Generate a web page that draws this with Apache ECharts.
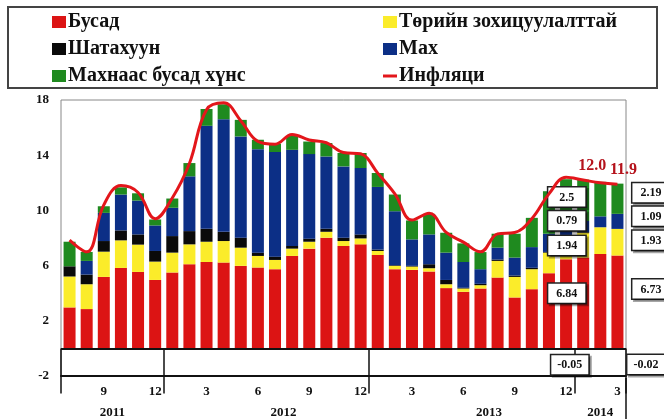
<!DOCTYPE html>
<html>
<head>
<meta charset="utf-8">
<script src="https://cdn.jsdelivr.net/npm/echarts@6/dist/echarts.min.js"></script>
<style>
html,body{margin:0;padding:0;background:#fff;}
#chart-panel{width:664px;height:419px;}
</style>
</head>
<body>
<div id="chart-panel"></div>
<script>
// 2011.7 - 2014.3, monthly
var periods = [
	'2011.7','2011.8','2011.9','2011.10','2011.11','2011.12',
	'2012.1','2012.2','2012.3','2012.4','2012.5','2012.6','2012.7','2012.8','2012.9','2012.10','2012.11','2012.12',
	'2013.1','2013.2','2013.3','2013.4','2013.5','2013.6','2013.7','2013.8','2013.9','2013.10','2013.11','2013.12',
	'2014.1','2014.2','2014.3'
];
var yearLabels = ['2011', '2012', '2013', '2014'];
var yTicks = [-2, 2, 6, 10, 14, 18];

var busad = [2.97, 2.85, 5.18, 5.83, 5.54, 4.96, 5.5, 6.1, 6.26, 6.22, 5.98, 5.86, 5.74, 6.7, 7.23, 8.02, 7.42, 7.54,
	6.77, 5.74, 5.69, 5.57, 4.37, 4.1, 4.34, 5.13, 3.69, 4.29, 5.45, 6.46, 6.58, 6.84, 6.73];
var toriin = [2.24, 1.8, 1.83, 2.0, 1.98, 1.33, 1.44, 1.44, 1.47, 1.56, 1.32, 0.84, 0.67, 0.53, 0.5, 0.43, 0.36, 0.43,
	0.29, 0.24, 0.24, 0.24, 0.28, 0.24, 0.24, 1.21, 1.49, 1.45, 1.49, 1.5, 1.8, 1.94, 1.93];
var shatahuun = [0.74, 0.7, 0.77, 0.72, 0.74, 0.77, 1.2, 0.96, 0.94, 0.67, 0.72, 0.24, 0.24, 0.19, 0.22, 0.22, 0.24, 0.29,
	0.1, 0.05, 0.05, 0.29, 0.31, 0.05, 0.1, 0.1, 0.1, 0.1, 0.05, 0.05, 0.05, -0.05, -0.02];
var mah = [0, 0.99, 2.04, 2.6, 2.45, 1.85, 2.05, 3.97, 7.46, 8.16, 7.34, 7.5, 7.58, 6.97, 6.13, 5.24, 5.17, 4.81,
	4.54, 3.91, 1.92, 2.16, 1.98, 1.87, 1.06, 0.86, 1.3, 1.5, 1.32, 1.4, 0.8, 0.79, 1.09];
var huns = [1.78, 0.65, 0.48, 0.52, 0.53, 0.43, 0.67, 0.96, 1.22, 1.08, 1.2, 0.68, 0.6, 1.01, 0.91, 0.97, 0.97, 1.09,
	1.01, 1.21, 1.37, 1.49, 1.44, 1.35, 1.24, 1.01, 1.73, 2.12, 3.08, 2.85, 3.0, 2.5, 2.19];
var inflation = [7.85, 7.0, 10.4, 11.8, 11.3, 9.4, 10.9, 13.4, 17.3, 17.8, 16.5, 15.0, 14.8, 15.5, 15.1, 14.9, 14.2, 14.1,
	12.7, 11.2, 9.3, 9.8, 8.4, 7.7, 7.0, 8.3, 8.4, 9.4, 11.2, 12.4, 12.2, 12.0, 11.9];

var FONT = '"Liberation Serif", "Times New Roman", serif';
var W = 664, H = 419;
var GRID = {left: 61, right: 38, top: 100, bottom: 41};

var boxStyle = {
	show: true,
	backgroundColor: '#fff',
	borderColor: '#222',
	borderWidth: 1.5,
	padding: [4, 6, 3, 6],
	formatter: '{n|{c}}',
	rich: {n: {width: 25, align: 'center', color: '#111', fontFamily: FONT, fontWeight: 'bold', fontSize: 12}},
	shadowColor: 'rgba(0,0,0,0.35)',
	shadowOffsetX: 2,
	shadowOffsetY: 2
};
function box(pos, dist, dy) {
	return Object.assign({}, boxStyle, {position: pos, distance: dist, offset: [0, dy]});
}
// last two months carry callout boxes
function withLabels(values, left, right) {
	return values.map(function (v, i) {
		if (i == values.length - 2) return {value: v, label: left};
		if (i == values.length - 1) return {value: v, label: right};
		return v;
	});
}

var yearStart = [0, 6, 18, 30];
var yearPos = {3: 'l', 12: 'r', 24: 'r', 31: 'c'};
var legendText = {fontFamily: FONT, fontWeight: 'bold', fontSize: 20, color: '#111', padding: [0, 0, 0, -3]};

var myChart = echarts.init(document.getElementById('chart-panel'));
var option = {
	backgroundColor: '#fff',
	animation: false,
	textStyle: {fontFamily: FONT},
	graphic: [{
		type: 'rect',
		shape: {x: 8, y: 7, width: 649, height: 81},
		style: {fill: 'none', stroke: '#444', lineWidth: 2}
	}, {
		// closing line of the year table on the right
		type: 'line',
		shape: {x1: W - GRID.right, y1: H - GRID.bottom, x2: W - GRID.right, y2: H},
		style: {stroke: '#111', lineWidth: 1.5}
	}],
	legend: [{
		orient: 'vertical',
		left: 52,
		top: 12,
		padding: 0,
		itemGap: 7,
		itemWidth: 14,
		itemHeight: 12,
		icon: 'rect',
		textStyle: legendText,
		data: ['Бусад', 'Шатахуун', 'Махнаас бусад хүнс']
	}, {
		orient: 'vertical',
		left: 383,
		top: 12,
		padding: 0,
		itemGap: 7,
		itemWidth: 14,
		itemHeight: 12,
		icon: 'rect',
		textStyle: legendText,
		data: ['Төрийн зохицуулалттай', 'Мах', {name: 'Инфляци', icon: 'path://M0,0H14V3H0Z'}]
	}],
	grid: {
		left: GRID.left,
		right: GRID.right,
		top: GRID.top,
		bottom: GRID.bottom,
		show: true,
		borderColor: '#888',
		borderWidth: 1
	},
	xAxis: [{
		type: 'category',
		data: periods,
		axisLine: {onZero: false, lineStyle: {color: '#111', width: 2}},
		axisTick: {show: false},
		axisLabel: {
			interval: 0,
			margin: 9,
			color: '#111',
			fontFamily: FONT,
			fontWeight: 'bold',
			fontSize: 13,
			formatter: function (v) {
				var m = Number(v.split('.')[1]);
				return m % 3 == 0 ? String(m) : '';
			}
		}
	}, {
		type: 'category',
		data: periods,
		position: 'bottom',
		axisLine: {show: false},
		axisTick: {
			show: true,
			length: 45,
			interval: function (i) { return yearStart.indexOf(i) >= 0; },
			lineStyle: {color: '#111', width: 1.5}
		},
		axisLabel: {
			interval: 0,
			margin: 30,
			color: '#111',
			fontFamily: FONT,
			fontWeight: 'bold',
			fontSize: 13,
			formatter: function (v, i) {
				var p = yearPos[i];
				if (!p) return '';
				var y = v.split('.')[0];
				return p == 'c' ? y : '{' + p + '|' + y + '}';
			},
			rich: {
				l: {padding: [0, 17, 0, 0], fontFamily: FONT, fontWeight: 'bold', fontSize: 13, color: '#111'},
				r: {padding: [0, 0, 0, 17], fontFamily: FONT, fontWeight: 'bold', fontSize: 13, color: '#111'}
			}
		}
	}],
	yAxis: {
		type: 'value',
		min: yTicks[0],
		max: yTicks[yTicks.length - 1],
		interval: 4,
		axisLine: {show: false},
		axisTick: {show: false},
		splitLine: {show: false},
		axisLabel: {color: '#111', fontFamily: FONT, fontWeight: 'bold', fontSize: 13, margin: 12}
	},
	series: [{
		name: 'Бусад',
		type: 'bar',
		stack: 'cpi',
		barWidth: 12,
		itemStyle: {color: '#dc1414'},
		data: withLabels(busad, box('left', 9, -8), box('right', 9, -13)),
		markLine: {
			silent: true,
			symbol: ['none', 'none'],
			label: {show: false},
			lineStyle: {color: '#111', width: 2, type: 'solid'},
			data: [{yAxis: 0}]
		}
	}, {
		name: 'Төрийн зохицуулалттай',
		type: 'bar',
		stack: 'cpi',
		itemStyle: {color: '#fbec2a'},
		data: withLabels(toriin, box('left', 9, 5), box('right', 9, -2))
	}, {
		name: 'Шатахуун',
		type: 'bar',
		stack: 'cpi',
		itemStyle: {color: '#0a0a0a'},
		data: withLabels(shatahuun, box('left', 6, 16), box('right', 4, 16))
	}, {
		name: 'Мах',
		type: 'bar',
		stack: 'cpi',
		itemStyle: {color: '#0c2f86'},
		data: withLabels(mah, box('left', 9, -1), box('right', 9, -5))
	}, {
		name: 'Махнаас бусад хүнс',
		type: 'bar',
		stack: 'cpi',
		itemStyle: {color: '#1f8a1f'},
		data: withLabels(huns, box('left', 9, -2), box('right', 9, -6))
	}, {
		name: 'Инфляци',
		type: 'line',
		smooth: 0.4,
		symbol: 'circle',
		symbolSize: 0.1,
		showSymbol: true,
		z: 5,
		lineStyle: {color: '#e3161b', width: 3},
		itemStyle: {color: '#e3161b'},
		data: inflation.map(function (v, i) {
			var lab = {show: true, position: 'top', color: '#b5121b', fontFamily: FONT, fontWeight: 'bold', fontSize: 16,
				formatter: function (p) { return Number(p.value).toFixed(1); }};
			if (i == inflation.length - 2) return {value: v, label: Object.assign(lab, {offset: [-8, -4]})};
			if (i == inflation.length - 1) return {value: v, label: Object.assign(lab, {offset: [6, -1]})};
			return v;
		})
	}]
};
myChart.setOption(option);
</script>
</body>
</html>
